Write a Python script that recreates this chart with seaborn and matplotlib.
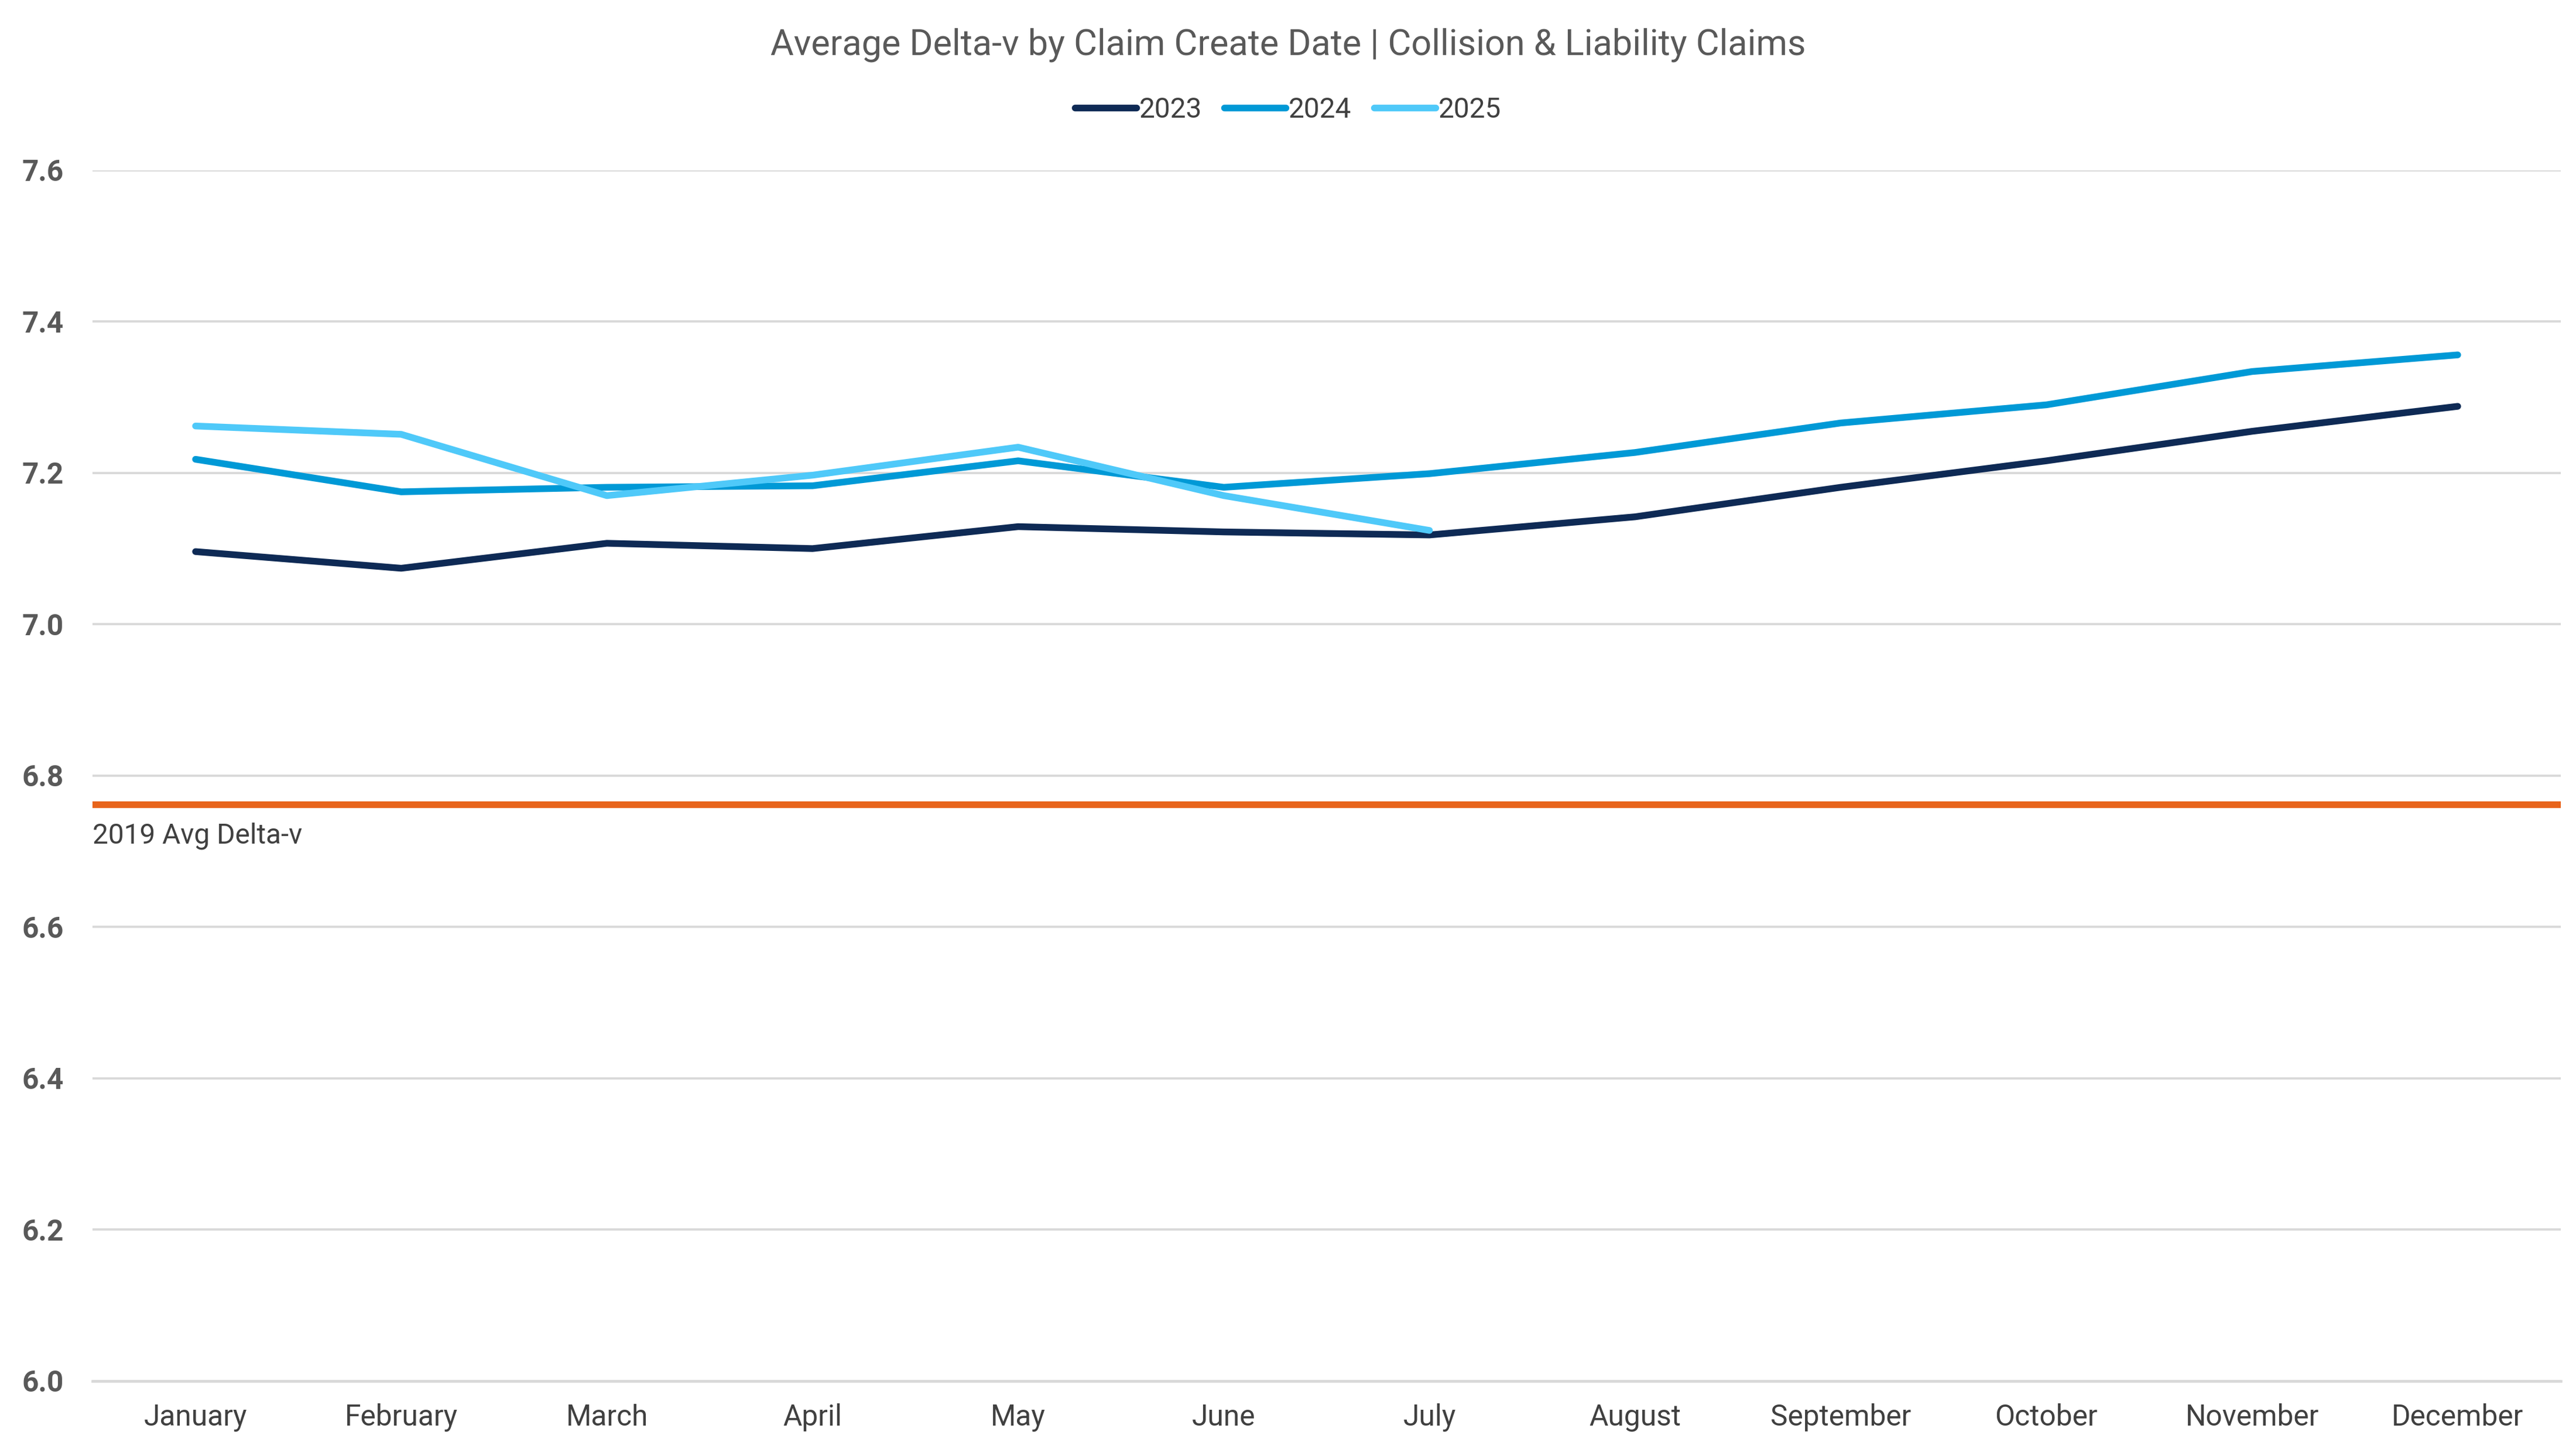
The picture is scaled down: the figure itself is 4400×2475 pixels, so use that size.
import pandas as pd
import matplotlib.pyplot as plt
import seaborn as sns

# 데이터
months = ['January', 'February', 'March', 'April', 'May', 'June',
          'July', 'August', 'September', 'October', 'November', 'December']
dv_2023 = [7.096, 7.074, 7.107, 7.100, 7.129, 7.122, 7.118, 7.142, 7.181, 7.216, 7.255, 7.288]
dv_2024 = [7.218, 7.175, 7.181, 7.183, 7.216, 7.181, 7.199, 7.227, 7.266, 7.290, 7.334, 7.356]
dv_2025 = [7.262, 7.251, 7.170, 7.197, 7.234, 7.170, 7.124]
avg_2019 = 6.762

years = ['2023', '2024', '2025']
colors = ['#0E2A55', '#0099D6', '#4FC9F9']

rows = []
for year, vals in zip(years, [dv_2023, dv_2024, dv_2025]):
    for m, v in zip(months, vals):
        rows.append({'Month': m, 'Year': year, 'Delta-v': v})
df = pd.DataFrame(rows)

sns.set_theme(style="white")
plt.rcParams['font.family'] = ['Roboto', 'DejaVu Sans']

fig = plt.figure(figsize=(16, 9), dpi=275)
ax = fig.add_axes([0.036, 0.047, 0.958, 0.8355])

sns.lineplot(data=df, x='Month', y='Delta-v', hue='Year', palette=colors,
             linewidth=3, sort=False, ax=ax, legend=True)

# 2019 기준선
ax.axhline(avg_2019, color='#E8641B', linewidth=3, zorder=1)
ax.annotate('2019 Avg Delta-v', xy=(-0.5, avg_2019), xytext=(0, -8),
            textcoords='offset points', ha='left', va='top',
            fontsize=12.5, color='#404040')

ax.set_xlim(-0.5, 11.5)
ax.set_ylim(6.0, 7.6)
ax.set_yticks([6.0, 6.2, 6.4, 6.6, 6.8, 7.0, 7.2, 7.4, 7.6])
ax.set_yticklabels([f'{t:.1f}' for t in ax.get_yticks()], fontweight='bold')
ax.yaxis.grid(True, color='#D9D9D9', linewidth=1)
ax.set_axisbelow(True)
for s in ['top', 'right', 'left']:
    ax.spines[s].set_visible(False)
ax.spines['bottom'].set_color('#D9D9D9')
ax.spines['bottom'].set_linewidth(1.2)
ax.tick_params(axis='y', labelsize=13, labelcolor='#595959', length=0, pad=13)
ax.tick_params(axis='x', labelsize=13, labelcolor='#404040', length=0, pad=10)
ax.set_xlabel('')
ax.set_ylabel('')

leg = ax.legend(loc='center', bbox_to_anchor=(0.5, 0.924), bbox_transform=fig.transFigure,
                ncol=3, frameon=False, fontsize=12.5, handlelength=2.2, handletextpad=0.1,
                columnspacing=0.8)
for t in leg.get_texts():
    t.set_color('#404040')

fig.suptitle('Average Delta-v by Claim Create Date | Collision & Liability Claims',
             y=0.969, va='center', fontsize=16, color='#595959')

fig.savefig('out.png', dpi=275)
